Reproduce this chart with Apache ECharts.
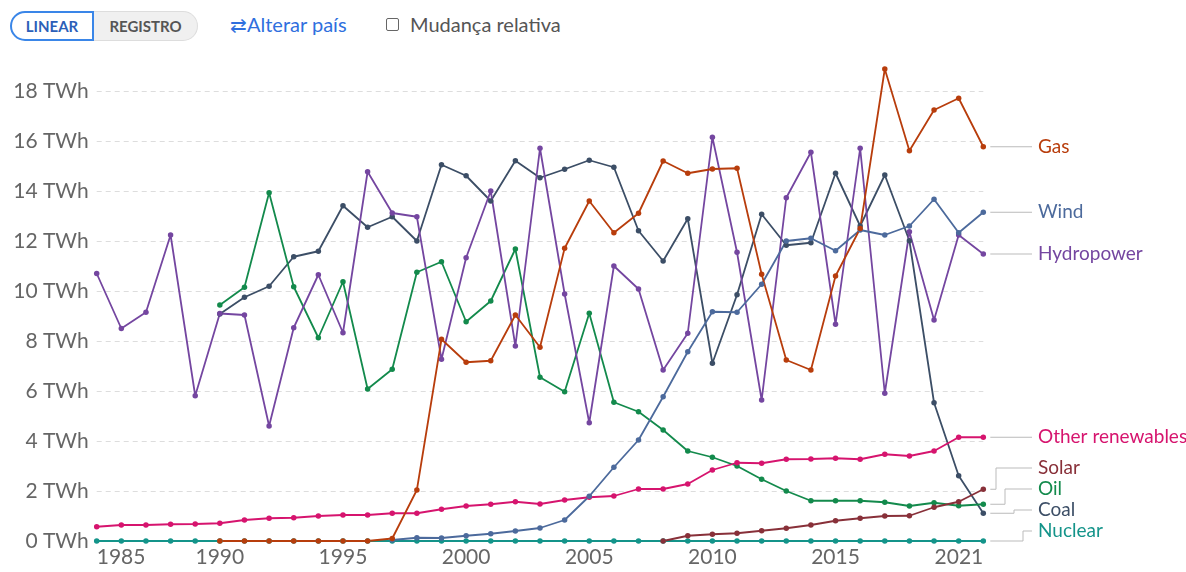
<!DOCTYPE html>
<html>
<head>
<meta charset="utf-8">
<script src="https://cdn.jsdelivr.net/npm/echarts@6/dist/echarts.min.js"></script>
<style>
  html, body { margin: 0; padding: 0; background: #fff; font-family: Lato, sans-serif; }
  #main { width: 1186px; height: 572px; }
  .controls { position: absolute; left: 0; top: 0; width: 1186px; height: 50px; }
  .toggle { position: absolute; left: 10px; top: 11px; height: 30px; display: flex; font-size: 15px; font-weight: bold; }
  .toggle .on { box-sizing: border-box; width: 84px; height: 30px; line-height: 27px; text-align: center; color: #2c5fb8; border: 2px solid #3a86e8; border-radius: 15px 0 0 15px; background: #fff; }
  .toggle .off { box-sizing: border-box; width: 104px; height: 30px; line-height: 28px; text-align: center; color: #555; background: #f0f0f0; border: 1px solid #ddd; border-left: none; border-radius: 0 15px 15px 0; }
  .swap { position: absolute; left: 230px; top: 12px; font-size: 20px; color: #2f6fde; }
  .check { position: absolute; left: 386px; top: 18px; width: 11px; height: 11px; border: 1px solid #666; border-radius: 2px; }
  .rel { position: absolute; left: 410px; top: 12px; font-size: 20px; color: #555; }
</style>
</head>
<body>
<div class="controls">
  <div class="toggle"><div class="on">LINEAR</div><div class="off">REGISTRO</div></div>
  <div class="swap">&#8644;Alterar país</div>
  <div class="check"></div>
  <div class="rel">Mudança relativa</div>
</div>
<div id="main"></div>
<script>
const years = [1985, 1986, 1987, 1988, 1989, 1990, 1991, 1992, 1993, 1994,
  1995, 1996, 1997, 1998, 1999, 2000, 2001, 2002, 2003, 2004,
  2005, 2006, 2007, 2008, 2009, 2010, 2011, 2012, 2013, 2014,
  2015, 2016, 2017, 2018, 2019, 2020, 2021]
const xTicks = [1985, 1990, 1995, 2000, 2005, 2010, 2015, 2021]
const yTicks = [0, 2, 4, 6, 8, 10, 12, 14, 16, 18]

const gas = [null, null, null, null, null, 0, 0, 0, 0, 0,
  0, 0, 0.1, 2.04, 8.07, 7.15, 7.21, 9.04, 7.75, 11.71,
  13.6, 12.33, 13.11, 15.2, 14.71, 14.88, 14.91, 10.67, 7.24, 6.84,
  10.6, 12.5, 18.88, 15.61, 17.24, 17.71, 15.77]
const wind = [null, null, null, null, null, null, null, null, null, null,
  null, null, 0.04, 0.13, 0.12, 0.21, 0.29, 0.4, 0.52, 0.84,
  1.79, 2.95, 4.04, 5.77, 7.57, 9.17, 9.15, 10.27, 12.0, 12.11,
  11.61, 12.44, 12.24, 12.6, 13.67, 12.33, 13.15]
const hydro = [10.7, 8.5, 9.15, 12.24, 5.81, 9.1, 9.04, 4.6, 8.53, 10.65,
  8.33, 14.77, 13.12, 12.97, 7.27, 11.33, 14.0, 7.8, 15.71, 9.88,
  4.73, 11.0, 10.08, 6.84, 8.31, 16.15, 11.55, 5.64, 13.73, 15.55,
  8.67, 15.71, 5.91, 12.37, 8.84, 12.24, 11.48]
const otherRen = [0.57, 0.64, 0.64, 0.67, 0.68, 0.71, 0.84, 0.91, 0.93, 1.0,
  1.04, 1.04, 1.11, 1.11, 1.27, 1.4, 1.47, 1.57, 1.48, 1.64,
  1.75, 1.8, 2.08, 2.08, 2.28, 2.84, 3.13, 3.11, 3.27, 3.28,
  3.31, 3.27, 3.47, 3.4, 3.6, 4.15, 4.15]
const solar = [null, null, null, null, null, null, null, null, null, null,
  null, null, null, null, null, null, null, null, null, null,
  null, null, null, 0, 0.21, 0.27, 0.31, 0.41, 0.51, 0.64,
  0.81, 0.91, 1.0, 1.01, 1.35, 1.57, 2.07]
const oil = [null, null, null, null, null, 9.44, 10.15, 13.93, 10.17, 8.13,
  10.37, 6.08, 6.87, 10.75, 11.17, 8.77, 9.6, 11.68, 6.55, 5.97,
  9.11, 5.55, 5.17, 4.44, 3.6, 3.35, 3.0, 2.47, 2.0, 1.61,
  1.61, 1.61, 1.55, 1.4, 1.53, 1.41, 1.47]
const coal = [null, null, null, null, null, 9.08, 9.75, 10.19, 11.37, 11.59,
  13.41, 12.55, 12.97, 12.0, 15.05, 14.61, 13.6, 15.21, 14.53, 14.87,
  15.23, 14.95, 12.41, 11.2, 12.89, 7.11, 9.85, 13.07, 11.83, 11.93,
  14.71, 12.6, 14.64, 12.01, 5.53, 2.61, 1.11]
const nuclear = [0, 0, 0, 0, 0, 0, 0, 0, 0, 0,
  0, 0, 0, 0, 0, 0, 0, 0, 0, 0,
  0, 0, 0, 0, 0, 0, 0, 0, 0, 0,
  0, 0, 0, 0, 0, 0, 0]

// ordem de desenho: nuclear por baixo
const sources = [
  { name: 'Nuclear', data: nuclear, color: '#14948A' },
  { name: 'Coal', data: coal, color: '#3C4E66' },
  { name: 'Oil', data: oil, color: '#138A4C' },
  { name: 'Solar', data: solar, color: '#883039' },
  { name: 'Other renewables', data: otherRen, color: '#D6146E' },
  { name: 'Hydropower', data: hydro, color: '#7446A0' },
  { name: 'Wind', data: wind, color: '#4C6A9C' },
  { name: 'Gas', data: gas, color: '#B83D0C' }
]

const chart = echarts.init(document.getElementById('main'))

chart.setOption({
  animation: false,
  textStyle: { fontFamily: 'Lato' },
  grid: { left: 96.7, right: 202.7, top: 91, bottom: 31 },
  xAxis: {
    type: 'value',
    min: 1985,
    max: 2021,
    axisLine: { show: false },
    axisTick: { show: false },
    splitLine: { show: false },
    axisLabel: {
      customValues: xTicks,
      fontSize: 21,
      color: '#666',
      margin: 6,
      alignMinLabel: 'left',
      alignMaxLabel: 'right',
      formatter: v => String(v)
    }
  },
  yAxis: {
    type: 'value',
    min: 0,
    max: 18,
    interval: 2,
    axisLine: { show: false },
    axisTick: { show: false },
    splitLine: { lineStyle: { color: '#ddd', type: [5, 4] } },
    axisLabel: {
      fontSize: 21,
      color: '#666',
      margin: 8,
      formatter: v => v + ' TWh'
    }
  },
  series: sources.map(s => ({
    name: s.name,
    type: 'line',
    clip: false,
    data: years.map((y, i) => [y, s.data[i]]),
    connectNulls: false,
    symbol: 'circle',
    symbolSize: 5.5,
    lineStyle: { width: 1.8, color: s.color },
    itemStyle: { color: s.color }
  }))
})

// rótulos à direita com linhas de ligação
function drawLabels () {
  const ends = sources.map(s => {
    const v = s.data[s.data.length - 1]
    const p = chart.convertToPixel({ gridIndex: 0 }, [years[years.length - 1], v])
    return { name: s.name, color: s.color, x: p[0], y: p[1], ly: p[1] }
  }).sort((a, b) => b.y - a.y)
  let prev = 531 + 21
  ends.forEach(e => {
    e.ly = Math.min(e.y, prev - 21)
    prev = e.ly
  })
  const els = []
  let k = 0
  ends.slice().reverse().forEach(e => {
    const x0 = e.x + 7
    const x1 = 1032
    let pts
    if (Math.abs(e.ly - e.y) < 1) {
      pts = [[x0, e.y], [x1, e.y]]
    } else {
      const xm = 996 + 9 * k
      k++
      pts = [[x0, e.y], [xm, e.y], [xm, e.ly], [x1, e.ly]]
    }
    els.push({
      type: 'polyline',
      shape: { points: pts },
      style: { stroke: '#bbb', lineWidth: 1, fill: null },
      silent: true
    })
    els.push({
      type: 'text',
      x: 1038,
      y: e.ly,
      style: {
        text: e.name,
        fill: e.color,
        font: '19px Lato',
        textVerticalAlign: 'middle',
        textAlign: 'left'
      },
      silent: true
    })
  })
  chart.setOption({ graphic: els })
}
drawLabels()
</script>
</body>
</html>
